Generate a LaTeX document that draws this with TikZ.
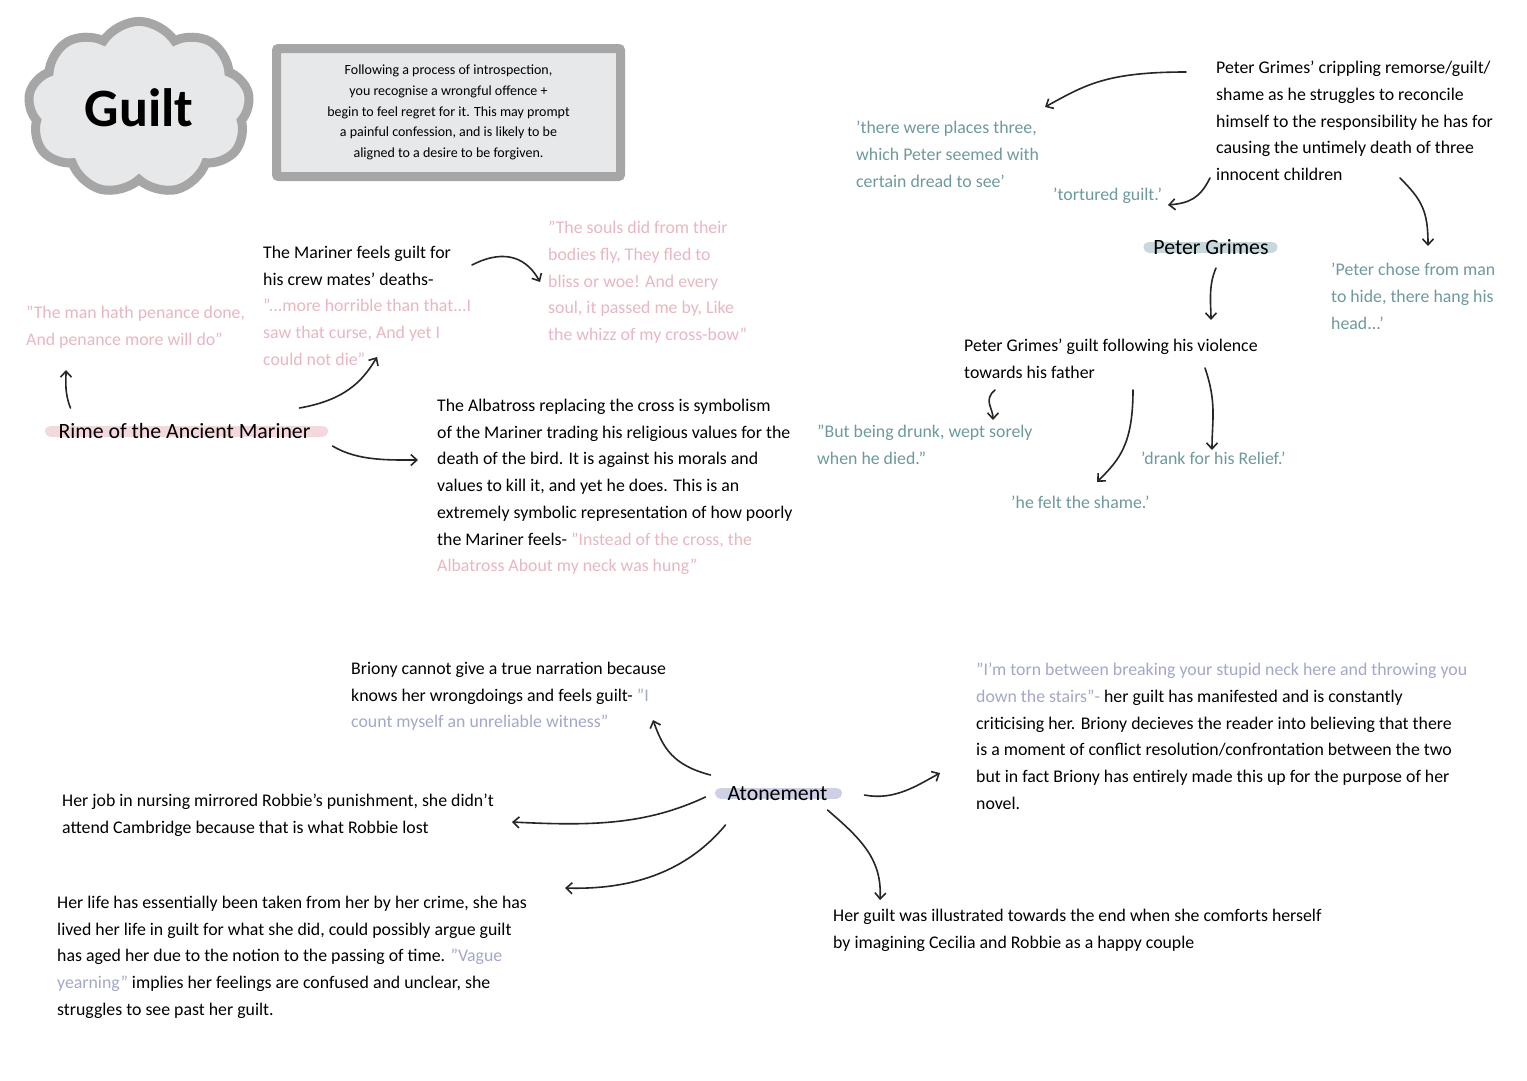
\documentclass[tikz,border=0pt]{standalone}
\usepackage{fontspec}
\setmainfont{Carlito}
\usetikzlibrary{shapes.symbols, arrows.meta, backgrounds}
\definecolor{pinkq}{HTML}{E9B7C0}
\definecolor{tealq}{HTML}{6E999D}
\definecolor{lavq}{HTML}{A3A8CA}
\definecolor{barpink}{HTML}{F3D9DD}
\definecolor{barteal}{HTML}{C7D9DC}
\definecolor{barlav}{HTML}{CED1E5}
\definecolor{boxgray}{HTML}{A6A6A6}
\definecolor{boxfill}{HTML}{E7E8EA}
\tikzset{
    note/.style={anchor=north west, inner sep=0pt, align=left, font=\fontsize{17.8}{26.7}\selectfont},
    topic/.style={anchor=base, inner sep=0pt, font=\fontsize{21.8}{24}\selectfont},
    link/.style={-{Straight Barb[length=6pt,width=11pt]}, line width=1.6pt, black!85, line cap=round},
    hlbar/.style={line width=11pt, line cap=round},
}
\begin{document}
\begin{tikzpicture}[x=1pt, y=-1pt]
\useasboundingbox (0,0) rectangle (1527,1080);

% heading
\node[cloud, cloud puffs=9, cloud puff arc=115, draw=boxgray, fill=boxfill, line width=9pt,
      minimum width=222pt, minimum height=172pt, inner sep=0pt] (guiltcloud) at (139,108)
      {\fontsize{54}{56}\selectfont\bfseries Guilt};
\node[draw=boxgray, fill=boxfill, line width=9pt, rounded corners=2pt, minimum width=344pt,
      minimum height=128pt, align=center, font=\fontsize{14}{20.8}\selectfont] (defbox) at (448.5,112.5)
      {Following a process of introspection,\\ you recognise a wrongful offence +\\
       begin to feel regret for it. This may prompt\\ a painful confession, and is likely to be\\
       aligned to a desire to be forgiven.};

% Rime of the Ancient Mariner
\node[topic] (rime) at (184.5,438) {Rime of the Ancient Mariner};
\node[note, text=pinkq] (manhath) at (26,306) {"The man hath penance done,\\ And penance more will do"};
\node[note] (marfeels) at (263,246) {The Mariner feels guilt for\\ his crew mates' deaths-\\
      \textcolor{pinkq}{"...more horrible than that...I}\\ \textcolor{pinkq}{saw that curse, And yet I}\\
      \textcolor{pinkq}{could not die"}};
\node[note, text=pinkq] (souls) at (548,221) {"The souls did from their\\ bodies fly, They fled to\\
      bliss or woe! And every\\ soul, it passed me by, Like\\ the whizz of my cross-bow"};
\node[note] (albatross) at (437,399) {The Albatross replacing the cross is symbolism\\
      of the Mariner trading his religious values for the\\ death of the bird. It is against his morals and\\
      values to kill it, and yet he does. This is an\\ extremely symbolic representation of how poorly\\
      the Mariner feels- \textcolor{pinkq}{"Instead of the cross, the}\\
      \textcolor{pinkq}{Albatross About my neck was hung"}};

% Peter Grimes
\node[topic] (pgtitle) at (1211,254) {Peter Grimes};
\node[note] (pgremorse) at (1216,61) {Peter Grimes' crippling remorse/guilt/\\ shame as he struggles to reconcile\\
      himself to the responsibility he has for\\ causing the untimely death of three\\ innocent children};
\node[note, text=tealq] (places) at (856,121) {'there were places three,\\ which Peter seemed with\\ certain dread to see'};
\node[note, text=tealq] (tortured) at (1053,188) {'tortured guilt.'};
\node[note, text=tealq] (chose) at (1331,263) {'Peter chose from man\\ to hide, there hang his\\ head...'};
\node[note] (violence) at (964,339) {Peter Grimes' guilt following his violence\\ towards his father};
\node[note, text=tealq] (drunk) at (817,425) {"But being drunk, wept sorely\\ when he died."};
\node[note, text=tealq] (relief) at (1141,452) {'drank for his Relief.'};
\node[note, text=tealq] (shame) at (1011,496) {'he felt the shame.'};

% Atonement
\node[topic] (atonement) at (777.5,800) {Atonement};
\node[note] (briony) at (351,662) {Briony cannot give a true narration because\\
      knows her wrongdoings and feels guilt- \textcolor{lavq}{"I}\\ \textcolor{lavq}{count myself an unreliable witness"}};
\node[note] (nursing) at (62,794) {Her job in nursing mirrored Robbie's punishment, she didn't\\
      attend Cambridge because that is what Robbie lost};
\node[note] (life) at (57,896) {Her life has essentially been taken from her by her crime, she has\\
      lived her life in guilt for what she did, could possibly argue guilt\\
      has aged her due to the notion to the passing of time. \textcolor{lavq}{"Vague}\\
      \textcolor{lavq}{yearning"} implies her feelings are confused and unclear, she\\ struggles to see past her guilt.};
\node[note] (torn) at (976,663) {\textcolor{lavq}{"I'm torn between breaking your stupid neck here and throwing you}\\
      \textcolor{lavq}{down the stairs"-} her guilt has manifested and is constantly\\
      criticising her. Briony decieves the reader into believing that there\\
      is a moment of conflict resolution/confrontation between the two\\
      but in fact Briony has entirely made this up for the purpose of her\\ novel.};
\node[note] (illustrated) at (833,909) {Her guilt was illustrated towards the end when she comforts herself\\
      by imagining Cecilia and Robbie as a happy couple};

% white page and highlight bars
\begin{scope}[on background layer]
\fill[white] (0,0) rectangle (1527,1080);
\draw[hlbar, barpink] ([shift={(-134,-7)}]rime.base) -- ([shift={(138,-7)}]rime.base);
\draw[hlbar, barteal] ([shift={(-62,-7)}]pgtitle.base) -- ([shift={(61,-7)}]pgtitle.base);
\draw[hlbar, barlav] ([shift={(-57,-7)}]atonement.base) -- ([shift={(59,-7)}]atonement.base);
\end{scope}

% arrows
\draw[link] ([shift={(-114,-30)}]rime.base) .. controls +(-6,-15) and +(0,12) .. ([shift={(40,64)}]manhath.north west);
\draw[link] ([shift={(115,-30)}]rime.base) .. controls +(45,-8) and +(-15,25) .. ([shift={(114,111)}]marfeels.north west);
\draw[link] ([shift={(148,8)}]rime.base) .. controls +(25,15) and +(-30,0) .. ([shift={(-19,61)}]albatross.north west);
\draw[link] ([shift={(209,19)}]marfeels.north west) .. controls +(35,-18) and +(-12,-22) .. ([shift={(-8,61)}]souls.north west);

\draw[link] ([shift={(-30,11)}]pgremorse.north west) .. controls +(-80,0) and +(40,-22) .. ([shift={(189,-14)}]places.north west);
\draw[link] ([shift={(-6,117)}]pgremorse.north west) .. controls +(-10,20) and +(22,-2) .. ([shift={(115,17)}]tortured.north west);
\draw[link] ([shift={(184,117)}]pgremorse.north west) .. controls +(22,22) and +(0,-35) .. ([shift={(97,-17)}]chose.north west);
\draw[link] ([shift={(5,14)}]pgtitle.base) .. controls +(-8,18) and +(0,-15) .. ([shift={(247,-19)}]violence.north west);
\draw[link] ([shift={(31,51)}]violence.north west) .. controls +(-12,10) and +(0,-12) .. ([shift={(176,-5)}]drunk.north west);
\draw[link] ([shift={(169,51)}]violence.north west) .. controls +(0,55) and +(22,-22) .. ([shift={(86,-14)}]shame.north west);
\draw[link] ([shift={(241,29)}]violence.north west) .. controls +(12,35) and +(0,-30) .. ([shift={(71,-2)}]relief.north west);

\draw[link] ([shift={(-67,-25)}]atonement.base) .. controls +(-38,-10) and +(10,28) .. ([shift={(302,58)}]briony.north west);
\draw[link] ([shift={(-72,-3)}]atonement.base) .. controls +(-60,28) and +(80,4) .. ([shift={(450,28)}]nursing.north west);
\draw[link] ([shift={(-52,25)}]atonement.base) .. controls +(-40,48) and +(65,2) .. ([shift={(508,-8)}]life.north west);
\draw[link] ([shift={(87,-5)}]atonement.base) .. controls +(30,6) and +(-22,12) .. ([shift={(-36,110)}]torn.north west);
\draw[link] ([shift={(50,10)}]atonement.base) .. controls +(35,30) and +(2,-40) .. ([shift={(47,-9)}]illustrated.north west);
\end{tikzpicture}
\end{document}
